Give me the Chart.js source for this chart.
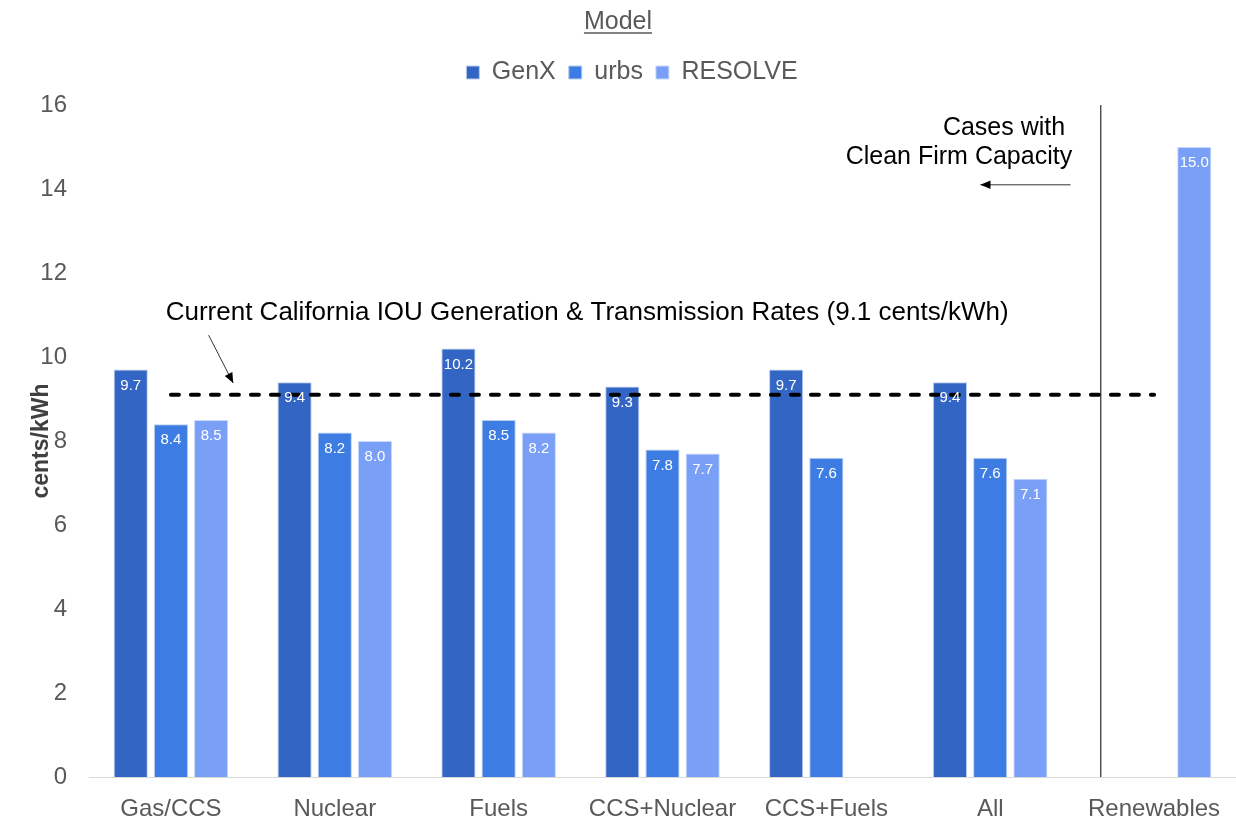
<!DOCTYPE html>
<html>
<head>
<meta charset="utf-8">
<script src="https://cdn.jsdelivr.net/npm/chart.js@4/dist/chart.umd.min.js"></script>
<style>
  html, body { margin: 0; padding: 0; background: #ffffff; }
  #wrap { width: 1236px; height: 823px; position: relative; }
</style>
</head>
<body>
<div id="wrap"><canvas id="c"></canvas></div>
<script>
// ---- Data ----
const categories = ["Gas/CCS", "Nuclear", "Fuels", "CCS+Nuclear", "CCS+Fuels", "All", "Renewables"];
const genxValues = [9.7, 9.4, 10.2, 9.3, 9.7, 9.4, null];
const urbsValues = [8.4, 8.2, 8.5, 7.8, 7.6, 7.6, null];
const resolveValues = [8.5, 8.0, 8.2, 7.7, null, 7.1, 15.0];
const currentRate = 9.1;
const rateLine = categories.map(() => currentRate);
const yTicks = [0, 2, 4, 6, 8, 10, 12, 14, 16];

const FONT = "'Liberation Sans', Arial, sans-serif";
const GRAY = "#595959";
const TOP_OFFSET = 105; // pixel top of plot area

// annotation positions in data units (category index, value)
const dividerIndex = 5.675;
const rateNote = { text: "Current California IOU Generation & Transmission Rates (9.1 cents/kWh)", x: 2.54, y: 11.05 };
const rateArrow = { x1: 0.23, y1: 10.52, x2: 0.38, y2: 9.38 };
const cleanNote = { lines: ["Cases with", "Clean Firm Capacity"], x: 5.5, y: [15.45, 14.76] };
const cleanArrow = { x1: 5.49, x2: 4.94, y: 14.1 };

function idxToPx(scale, idx) {
  const base = Math.floor(idx);
  const frac = idx - base;
  const p0 = scale.getPixelForValue(base);
  const p1 = scale.getPixelForValue(base + 1);
  return p0 + (p1 - p0) * frac;
}

function arrow(ctx, x1, y1, x2, y2, head) {
  ctx.beginPath();
  ctx.moveTo(x1, y1);
  ctx.lineTo(x2, y2);
  ctx.stroke();
  const a = Math.atan2(y2 - y1, x2 - x1);
  ctx.beginPath();
  ctx.moveTo(x2, y2);
  ctx.lineTo(x2 - head * Math.cos(a - 0.4), y2 - head * Math.sin(a - 0.4));
  ctx.lineTo(x2 - head * Math.cos(a + 0.4), y2 - head * Math.sin(a + 0.4));
  ctx.closePath();
  ctx.fill();
}

const annotationPlugin = {
  id: 'annot',
  beforeLayout(chart) {
    const lg = chart.legend;
    if (lg && !lg._wrapped) {
      const orig = lg.fit;
      lg.fit = function () {
        orig.call(this);
        const tb = chart.titleBlock;
        const above = tb ? tb.height : 0;
        this.height = Math.max(this.height, TOP_OFFSET - above);
      };
      lg._wrapped = true;
    }
  },
  afterLayout(chart) {
    // centre the title on the full canvas width
    const tb = chart.titleBlock;
    if (tb) { tb.left = 0; tb.right = chart.width; }
  },
  afterDatasetsDraw(chart) {
    const ctx = chart.ctx;
    const xs = chart.scales.x, ys = chart.scales.y;
    ctx.save();
    // value labels inside bars
    ctx.fillStyle = "#ffffff";
    ctx.font = "15px " + FONT;
    ctx.textAlign = "center";
    ctx.textBaseline = "middle";
    chart.data.datasets.forEach((ds, di) => {
      if (ds.type === 'line') return;
      const meta = chart.getDatasetMeta(di);
      meta.data.forEach((bar, i) => {
        const v = ds.data[i];
        if (v === null || v === undefined) return;
        ctx.fillText(v.toFixed(1), bar.x, bar.y + 16);
      });
    });
    // divider
    const dx = idxToPx(xs, dividerIndex);
    ctx.strokeStyle = "#000000";
    ctx.lineWidth = 1;
    ctx.beginPath();
    ctx.moveTo(dx, ys.getPixelForValue(16));
    ctx.lineTo(dx, ys.getPixelForValue(0));
    ctx.stroke();
    // rate note
    ctx.fillStyle = "#000000";
    ctx.font = "26px " + FONT;
    ctx.textAlign = "center";
    ctx.fillText(rateNote.text, idxToPx(xs, rateNote.x), ys.getPixelForValue(rateNote.y));
    ctx.strokeStyle = "#333333";
    ctx.fillStyle = "#000000";
    ctx.lineWidth = 1;
    arrow(ctx, idxToPx(xs, rateArrow.x1), ys.getPixelForValue(rateArrow.y1),
               idxToPx(xs, rateArrow.x2), ys.getPixelForValue(rateArrow.y2), 11);
    // clean firm note
    ctx.font = "25px " + FONT;
    ctx.textAlign = "right";
    ctx.fillText(cleanNote.lines[0], idxToPx(xs, cleanNote.x) - 7, ys.getPixelForValue(cleanNote.y[0]));
    ctx.fillText(cleanNote.lines[1], idxToPx(xs, cleanNote.x), ys.getPixelForValue(cleanNote.y[1]));
    arrow(ctx, idxToPx(xs, cleanArrow.x1), ys.getPixelForValue(cleanArrow.y),
               idxToPx(xs, cleanArrow.x2), ys.getPixelForValue(cleanArrow.y), 11);
    ctx.restore();
  },
  afterDraw(chart) {
    // underline the title
    const t = chart.titleBlock;
    if (!t) return;
    const ctx = chart.ctx;
    ctx.save();
    ctx.font = "25px " + FONT;
    const w = ctx.measureText(chart.options.plugins.title.text).width;
    const cx = (t.left + t.right) / 2;
    const yLine = t.top + t.options.padding.top + 26;
    ctx.strokeStyle = GRAY;
    ctx.lineWidth = 1.3;
    ctx.beginPath();
    ctx.moveTo(cx - w / 2, yLine);
    ctx.lineTo(cx + w / 2, yLine);
    ctx.stroke();
    ctx.restore();
  }
};

new Chart(document.getElementById('c'), {
  type: 'bar',
  data: {
    labels: categories,
    datasets: [
      { type: 'line', label: 'rate', data: rateLine, borderColor: '#000000', borderWidth: 4,
        borderDash: [8, 12], borderCapStyle: 'round', pointRadius: 0, fill: false, order: 0 },
      { label: 'GenX', data: genxValues, backgroundColor: '#3366c4', borderColor: '#b9cdef', borderWidth: 1, order: 1 },
      { label: 'urbs', data: urbsValues, backgroundColor: '#3d7de3', borderColor: '#b9cdef', borderWidth: 1, order: 1 },
      { label: 'RESOLVE', data: resolveValues, backgroundColor: '#79a0f6', borderColor: '#c9d8fb', borderWidth: 1, order: 1 }
    ]
  },
  options: {
    responsive: true,
    maintainAspectRatio: false,
    animation: false,
    devicePixelRatio: 1,
    layout: { padding: { left: 28, right: 0, top: 0, bottom: 0 } },
    categoryPercentage: 0.736,
    barPercentage: 0.85,
    plugins: {
      tooltip: { enabled: false },
      title: {
        display: true, text: 'Model', color: GRAY,
        font: { family: FONT, size: 25, weight: 'normal' },
        padding: { top: 7, bottom: 10 }
      },
      legend: {
        display: true,
        labels: {
          color: GRAY, font: { family: FONT, size: 25 },
          boxWidth: 13, boxHeight: 13, padding: 13,
          filter: (item) => item.text !== 'rate'
        }
      }
    },
    scales: {
      x: {
        grid: { display: false },
        border: { display: true, color: '#d9d9d9', width: 1 },
        ticks: { color: GRAY, font: { family: FONT, size: 24 }, padding: 10, maxRotation: 0 },
        afterFit(scale) { scale.height = 46; }
      },
      y: {
        min: 0, max: 16,
        grid: { display: false },
        border: { display: false },
        afterBuildTicks(scale) { scale.ticks = yTicks.map(v => ({ value: v })); },
        ticks: { color: GRAY, font: { family: FONT, size: 24 }, padding: 14 },
        title: { display: true, text: 'cents/kWh', color: '#404040', font: { family: FONT, size: 23, weight: 'bold' }, padding: 0 },
        afterFit(scale) { scale.width = 61; }
      }
    }
  },
  plugins: [annotationPlugin]
});
</script>
</body>
</html>
